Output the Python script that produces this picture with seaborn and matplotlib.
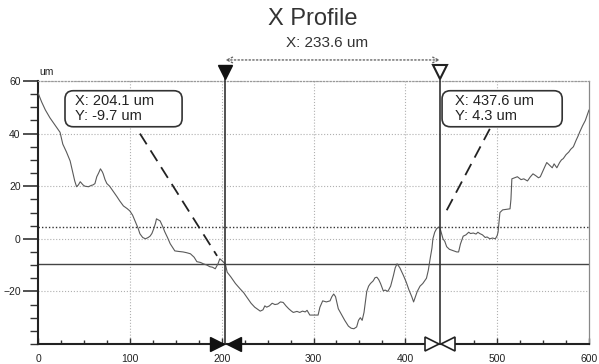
import numpy as np
import pandas as pd
import matplotlib
matplotlib.use("Agg")
import matplotlib.pyplot as plt
import seaborn as sns
from matplotlib.patches import FancyBboxPatch
from matplotlib.ticker import MultipleLocator

# ---- data ----
profile_x = [0, 4, 8, 13, 17, 21, 24, 27, 31, 35, 38, 40, 42, 44, 46, 49, 51, 55, 58, 60,
             62, 64, 66, 68, 70, 71, 73, 75, 78, 82, 86, 89, 93, 97, 100, 103, 106, 109, 111, 114,
             117, 120, 122, 124, 126, 128, 129, 131, 133, 136, 138, 141, 144, 147, 149, 153, 158, 162, 166, 170,
             173, 177, 180, 184, 187, 190, 193, 196, 198, 201, 204.1, 206, 210, 215, 220, 224, 228, 232, 236, 240,
             242, 245, 247, 249, 252, 255, 258, 261, 264, 267, 270, 273, 276, 278, 282, 285, 288, 291, 293, 296,
             300, 305, 307, 310, 314, 318, 320, 322, 324, 327, 330, 334, 338, 341, 344, 347, 349, 351, 353, 355,
             358, 360, 362, 365, 367, 369, 371, 373, 376, 378, 381, 384, 387, 389, 391, 394, 396, 398, 401, 404,
             407, 409, 411, 413, 416, 419, 421, 423, 425, 427, 429, 430, 432, 434, 436, 437.6, 439, 441, 443, 445,
             448, 452, 456, 458, 460, 462, 463, 466, 469, 471, 474, 477, 479, 481, 484, 487, 489, 492, 495, 498,
             500, 501, 503, 506, 510, 514, 515, 516, 519, 522, 526, 529, 533, 536, 539, 542, 545, 547, 550, 552,
             554, 557, 560, 562, 565, 568, 570, 572, 575, 578, 580, 583, 586, 588, 590, 593, 596, 598, 600]
profile_y = [55.5, 52, 49, 46, 44, 42, 40.5, 36, 33, 29.6, 25, 22, 19.8, 20.5, 21.7, 20.5, 20, 19.8, 20.3, 20.5,
             21, 23.6, 25, 26.6, 25.5, 24.7, 22.5, 21, 20, 18, 16, 14.4, 12.5, 11.5, 10.6, 9, 6.5, 4, 1.9, 0.5,
             0, 0.5, 1, 2, 3.8, 6, 7.6, 7.2, 6.8, 4.5, 2.7, 0.5, -1.9, -3.5, -4.6, -4.8, -5, -5.3, -5.7, -7,
             -8.7, -9, -9.5, -10, -10.6, -10.8, -11.4, -9.5, -7.6, -8.5, -9.7, -12.7, -14.5, -17, -19, -20.5, -22.5, -24.5, -26, -27,
             -27.5, -27, -25.5, -26, -25.5, -24.5, -25, -24.8, -24, -24.2, -25.5, -26.6, -27.5, -28, -27.6, -28, -27.5, -27.8, -27.2, -29,
             -29, -29, -26, -23.6, -24, -23.6, -22, -21, -22, -26.6, -28.5, -31, -33.2, -34, -34.2, -33.5, -31, -30, -31, -28,
             -20, -18, -17, -16, -14.8, -14.6, -15.5, -17, -19.8, -19.5, -20, -18, -14, -11, -9.5, -11, -12.5, -14, -16.5, -19.5,
             -22, -24, -22, -20, -18, -17, -16, -15, -12, -7.6, -3.5, 0, 2.5, 3.8, 4.4, 4.3, 2.5, 0, -1, -3,
             -4, -4.5, -5, -5, -2, 0, 1, 1.5, 2.5, 2, 2.2, 1.8, 2.5, 2, 1.5, 0.5, 0.7, 0, 0.3, 0,
             1.2, 2.6, 10, 11, 11.2, 11.4, 15, 22.8, 23.2, 23.6, 22.5, 22.8, 22, 23.5, 24.7, 24, 23.2, 23.6, 26, 27.5,
             29, 28, 27, 28.5, 27, 29, 30, 30.5, 32, 33, 34, 35, 37.5, 39, 40.7, 43, 45, 47, 49]

cursor_x = [204.1, 437.6]
cursor_y = [-9.7, 4.3]
cursor_labels = ["X: 204.1 um\nY: -9.7 um", "X: 437.6 um\nY: 4.3 um"]
delta_label = "X: 233.6 um"
title = "X Profile"
x_ticks = [0, 100, 200, 300, 400, 500, 600]
y_ticks = [-20, 0, 20, 40, 60]
y_unit = "um"

df = pd.DataFrame({"x": profile_x, "y": profile_y})

sns.set_style("white")
plt.rcParams["font.family"] = ["Liberation Sans", "DejaVu Sans"]

fig = plt.figure(figsize=(5.99, 3.64), dpi=100)
ax = fig.add_axes([38/599, 20/364, 551/599, 263/364])

# grid
for xv in x_ticks[1:-1]:
    ax.axvline(xv, color="#b0b0b0", lw=0.8, ls=":", zorder=0)
for yv in y_ticks:
    ax.axhline(yv, color="#b0b0b0", lw=0.8, ls=":", zorder=0)

sns.lineplot(data=df, x="x", y="y", ax=ax, color="#5a5a5a", lw=0.8, zorder=3)

ax.set_xlim(0, 600)
ax.set_ylim(-40, 60)
ax.set_xlabel("")
ax.set_ylabel("")

# cursor lines
ax.axhline(cursor_y[0], color="#444444", lw=1.0, ls="-", zorder=2)
ax.axhline(cursor_y[1], color="#333333", lw=1.0, ls=(0, (1, 1.5)), zorder=2)
for cx in cursor_x:
    ax.axvline(cx, ymin=0, ymax=1.035, color="#333333", lw=1.2, clip_on=False, zorder=4)

# ticks
ax.set_xticks(x_ticks)
ax.set_yticks(y_ticks)
ax.xaxis.set_minor_locator(MultipleLocator(25))
ax.yaxis.set_minor_locator(MultipleLocator(5))
ax.tick_params(axis="y", which="major", direction="out", length=11, width=1.1, color="#222", pad=1.5,
               labelsize=7.5, labelcolor="#222", left=True)
ax.tick_params(axis="y", which="minor", direction="out", length=6, width=1.0, color="#333", left=True)
ax.tick_params(axis="x", which="major", direction="in", length=4, width=1.0, color="#333", pad=7,
               labelsize=7.5, labelcolor="#222", bottom=True)
ax.tick_params(axis="x", which="minor", direction="in", length=3, width=1.0, color="#333", bottom=True)

for s in ["left", "bottom"]:
    ax.spines[s].set_color("#222")
    ax.spines[s].set_linewidth(1.5)
ax.spines["right"].set_color("#888")
ax.spines["right"].set_linewidth(0.9)
ax.spines["top"].set_color("#999")
ax.spines["top"].set_linewidth(0.9)
ax.spines["top"].set_linestyle(":")

xt = ax.get_xaxis_transform()
# top triangle markers
ax.plot([cursor_x[0]], [1.034], marker="v", ms=9.5, color="#111", transform=xt, clip_on=False, zorder=5)
ax.plot([cursor_x[1]], [1.034], marker="v", ms=9.5, mfc="white", mec="#222", mew=1.5, transform=xt,
        clip_on=False, zorder=5)
# bottom bow-tie markers
off = 9
ax.plot([cursor_x[0] - off], [0], marker=">", ms=10, color="#111", transform=xt, clip_on=False, zorder=5)
ax.plot([cursor_x[0] + off], [0], marker="<", ms=10, color="#111", transform=xt, clip_on=False, zorder=5)
ax.plot([cursor_x[1] - off], [0], marker=">", ms=10, mfc="white", mec="#222", mew=1.2, transform=xt,
        clip_on=False, zorder=5)
ax.plot([cursor_x[1] + off], [0], marker="<", ms=10, mfc="white", mec="#222", mew=1.2, transform=xt,
        clip_on=False, zorder=5)

# delta arrow
ax.annotate("", xy=(cursor_x[1], 1.08), xytext=(cursor_x[0], 1.08), xycoords=xt, textcoords=xt,
            arrowprops=dict(arrowstyle="<->", ls=":", color="#666", lw=1.0, shrinkA=0, shrinkB=0))
ax.text((cursor_x[0] + cursor_x[1]) / 2 - 6, 1.145, delta_label, transform=xt, ha="center", va="center",
        fontsize=11, color="#333")

# title
fig.text(0.522, 0.947, title, ha="center", va="center", fontsize=17, color="#333")
# unit label
ax.text(0.003, 1.036, y_unit, transform=ax.transAxes, ha="left", va="center", fontsize=7.5, color="#222")

# annotation boxes
boxes = [(29.4, 42.6, 127.5, 13.7), (440.0, 42.6, 130.8, 13.7)]
text_x = [40.3, 454.0]
leaders = [((111, 40.0), (195, -6.5)), ((492, 41.8), (443, 9.5))]
for (bx, by, bw, bh), tx, lab, (p0, p1) in zip(boxes, text_x, cursor_labels, leaders):
    patch = FancyBboxPatch((bx, by), bw, bh, boxstyle="round,pad=0,rounding_size=9",
                           mutation_aspect=0.35, fc="white", ec="#333", lw=1.2, zorder=6)
    ax.add_patch(patch)
    ax.text(tx, by + bh / 2, lab, ha="left", va="center", fontsize=10.5, color="#222",
            linespacing=1.1, zorder=7)
    ax.plot([p0[0], p1[0]], [p0[1], p1[1]], color="#222", lw=1.3, ls=(0, (7, 4)), zorder=6)

fig.savefig("out.png", dpi=100)
